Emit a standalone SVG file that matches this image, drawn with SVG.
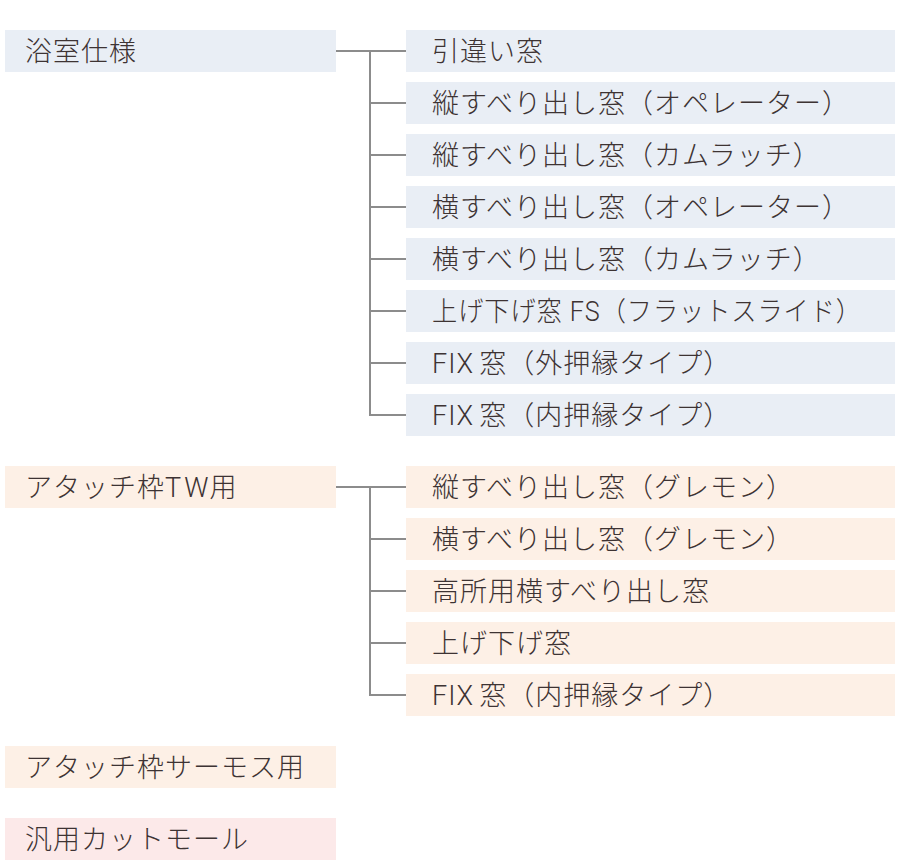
<svg xmlns="http://www.w3.org/2000/svg" width="900" height="860" viewBox="0 0 900 860">
<style>
text{font-family:Roboto,"Noto Sans CJK JP",sans-serif;font-size:27px;font-weight:300;letter-spacing:1px;fill:#3d3333;}
.b{fill:#e9eef5;}
.o{fill:#fdf0e6;}
.p{fill:#fce9e9;}
.c{stroke:#8c8c8c;stroke-width:2;fill:none;}
</style>
<rect width="900" height="860" fill="#ffffff"/>
<g id="connectors">
<path class="c" d="M336 51H406M370 51V415H406M370 103H406M370 155H406M370 207H406M370 259H406M370 311H406M370 363H406"/>
<path class="c" d="M336 487H406M370 487V695H406M370 539H406M370 591H406M370 643H406"/>
</g>
<g id="n-yokushitsu"><rect class="b" x="5" y="30" width="331" height="42"/><text x="25" y="61">浴室仕様</text></g>
<g id="n-b1"><rect class="b" x="406" y="30" width="489" height="42"/><text x="432" y="61">引違い窓</text></g>
<g id="n-b2"><rect class="b" x="406" y="82" width="489" height="42"/><text x="432" y="113">縦すべり出し窓（オペレーター）</text></g>
<g id="n-b3"><rect class="b" x="406" y="134" width="489" height="42"/><text x="432" y="165">縦すべり出し窓（カムラッチ）</text></g>
<g id="n-b4"><rect class="b" x="406" y="186" width="489" height="42"/><text x="432" y="217">横すべり出し窓（オペレーター）</text></g>
<g id="n-b5"><rect class="b" x="406" y="238" width="489" height="42"/><text x="432" y="269">横すべり出し窓（カムラッチ）</text></g>
<g id="n-b6"><rect class="b" x="406" y="290" width="489" height="42"/><text x="432" y="321" textLength="430" lengthAdjust="spacingAndGlyphs">上げ下げ窓 FS（フラットスライド）</text></g>
<g id="n-b7"><rect class="b" x="406" y="342" width="489" height="42"/><text x="432" y="373">FIX<tspan dx="5">窓（外押縁タイプ）</tspan></text></g>
<g id="n-b8"><rect class="b" x="406" y="394" width="489" height="42"/><text x="432" y="425">FIX<tspan dx="5">窓（内押縁タイプ）</tspan></text></g>
<g id="n-tw"><rect class="o" x="5" y="466" width="331" height="42"/><text x="25" y="497">アタッチ枠T<tspan dx="2">W</tspan>用</text></g>
<g id="n-o1"><rect class="o" x="406" y="466" width="489" height="42"/><text x="432" y="497">縦すべり出し窓（グレモン）</text></g>
<g id="n-o2"><rect class="o" x="406" y="518" width="489" height="42"/><text x="432" y="549">横すべり出し窓（グレモン）</text></g>
<g id="n-o3"><rect class="o" x="406" y="570" width="489" height="42"/><text x="432" y="601">高所用横すべり出し窓</text></g>
<g id="n-o4"><rect class="o" x="406" y="622" width="489" height="42"/><text x="432" y="653">上げ下げ窓</text></g>
<g id="n-o5"><rect class="o" x="406" y="674" width="489" height="42"/><text x="432" y="705">FIX<tspan dx="5">窓（内押縁タイプ）</tspan></text></g>
<g id="n-thermos"><rect class="o" x="5" y="746" width="331" height="42"/><text x="25" y="777">アタッチ枠サーモス用</text></g>
<g id="n-cut"><rect class="p" x="5" y="818" width="331" height="42"/><text x="25" y="849">汎用カットモール</text></g>
</svg>
